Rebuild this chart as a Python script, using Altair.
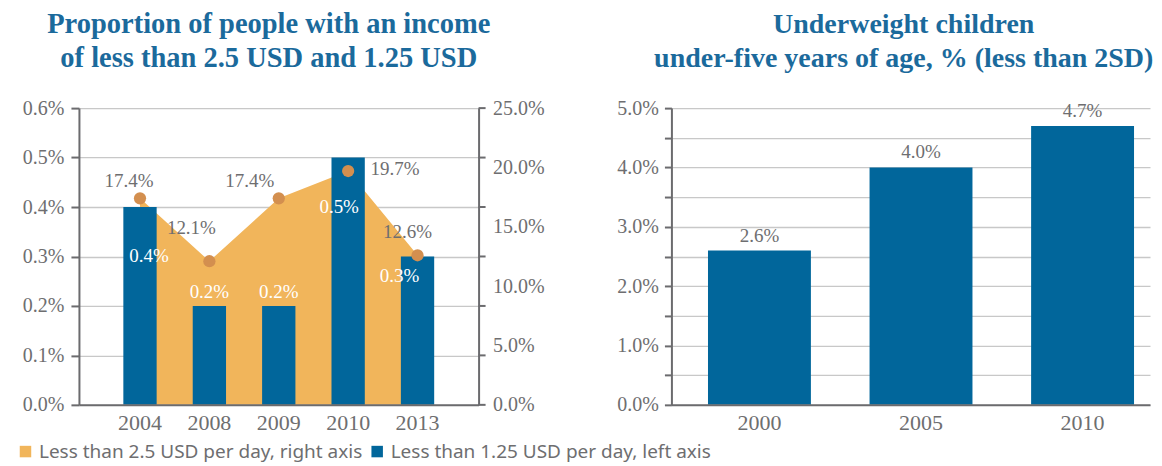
import altair as alt
import pandas as pd

# ---------------- data ----------------
years_left = ["2004", "2008", "2009", "2010", "2013"]
under_125_usd = [0.004, 0.002, 0.002, 0.005, 0.003]      # left axis
under_25_usd = [17.4, 12.1, 17.4, 19.7, 12.6]            # right axis, %
left_axis_ticks = [0.0, 0.001, 0.002, 0.003, 0.004, 0.005, 0.006]
right_axis_ticks = [0, 5, 10, 15, 20, 25]

years_right = ["2000", "2005", "2010"]
underweight = [0.026, 0.040, 0.047]
underweight_ticks = [0.0, 0.005, 0.01, 0.015, 0.02, 0.025, 0.03,
                     0.035, 0.04, 0.045, 0.05]

series_names = ["Less than 2.5 USD per day, right axis",
                "Less than 1.25 USD per day, left axis"]

title_left = ["Proportion of people with an income",
              "of less than 2.5 USD and 1.25 USD"]
title_right = ["Underweight children",
               "under-five years of age, % (less than 2SD)"]

# ---------------- style ----------------
BLUE = "#01669b"
ORANGE = "#f1b55b"
DOT = "#d38f4f"
GRAY = "#6e6e70"
AXIS = "#6b6b6e"
GRID = "#c8c8c8"
TITLE = "#1b6a9c"
SERIF = "Liberation Serif"
SANS = "Noto Sans"

W1, W2, H = 400, 479, 297

# label nudges (dx, dy) in pixels, per category
bar_label_nudge = {"2004": (9, 49), "2008": (0, -14), "2009": (0, -14),
                   "2010": (-9, 49), "2013": (-18, 20)}
dot_label_nudge = {"2004": (-11, -17), "2008": (-18, -33), "2009": (-29, -17),
                   "2010": (47, -2), "2013": (-10, -23)}

df_left = pd.DataFrame({
    "year": years_left,
    "low": under_125_usd,
    "high": under_25_usd,
    "s_low": series_names[1],
    "s_high": series_names[0],
})
df_ticks = pd.DataFrame({"low": left_axis_ticks})
df_right = pd.DataFrame({"year": years_right, "value": underweight})

legend = alt.Legend(
    title=None, orient="none", legendX=-63, legendY=334,
    direction="horizontal", symbolType="square", symbolSize=132,
    symbolStrokeWidth=0, symbolOpacity=1, labelFont=SANS, labelFontSize=19,
    labelColor=GRAY, columnPadding=5, labelOffset=4, labelLimit=600,
)
color_scale = alt.Scale(domain=series_names, range=[ORANGE, BLUE])

x_left = alt.X(
    "year:N", sort=years_left, title=None,
    scale=alt.Scale(paddingInner=0.52, paddingOuter=0.64),
    axis=alt.Axis(labelAngle=0, ticks=False, domainColor=AXIS, domainWidth=2,
                  labelFont=SERIF, labelFontSize=22, labelColor=GRAY,
                  labelPadding=8, zindex=1),
)

y_left_axis = alt.Axis(
    values=left_axis_ticks, format=".1%", orient="left", title=None,
    grid=True, gridColor=GRID, gridWidth=1.3, domainColor=AXIS, domainWidth=2,
    tickColor=AXIS, tickSize=8, tickWidth=2, labelFont=SERIF, labelFontSize=20,
    labelColor=GRAY, labelPadding=7,
)
y_left = alt.Y("low:Q", scale=alt.Scale(domain=[0, 0.006], nice=False),
               axis=y_left_axis)

y_right_axis = alt.Axis(
    values=right_axis_ticks, orient="right", title=None,
    labelExpr="format(datum.value, '.1f') + '%'", ticks=False, grid=False,
    domainColor=AXIS, domainWidth=2, labelFont=SERIF, labelFontSize=20,
    labelColor=GRAY, labelPadding=14,
)
y_high = alt.Y("high:Q", scale=alt.Scale(domain=[0, 25], nice=False),
               axis=y_right_axis)
y_high_noaxis = alt.Y("high:Q", scale=alt.Scale(domain=[0, 25], nice=False),
                      axis=None)

# area (right axis)
area = alt.Chart(df_left).mark_area(opacity=1).encode(
    x=x_left, y=y_high,
    color=alt.Color("s_high:N", scale=color_scale, legend=legend),
)

# bars (left axis)
bars = alt.Chart(df_left).mark_bar(opacity=1).encode(
    x=x_left, y=y_left,
    color=alt.Color("s_low:N", scale=color_scale, legend=legend),
)
tick_rules = alt.Chart(df_ticks).mark_rule(color=AXIS, strokeWidth=2).encode(
    y=y_left, x=alt.value(W1), x2=alt.value(W1 + 7)
)
bar_labels = []
for yr in years_left:
    dx, dy = bar_label_nudge[yr]
    bar_labels.append(
        alt.Chart(df_left).transform_filter(alt.datum.year == yr).mark_text(
            dx=dx, dy=dy, baseline="middle", align="center", color="white",
            font=SERIF, fontSize=19,
        ).encode(x=x_left, y=y_left, text=alt.Text("low:Q", format=".1%"))
    )

dots = alt.Chart(df_left).mark_circle(size=150, color=DOT, opacity=1).encode(
    x=x_left, y=y_high_noaxis
)
dot_labels = []
for yr in years_left:
    dx, dy = dot_label_nudge[yr]
    dot_labels.append(
        alt.Chart(df_left).transform_filter(alt.datum.year == yr)
        .transform_calculate(lab="format(datum.high, '.1f') + '%'")
        .mark_text(dx=dx, dy=dy, baseline="middle", align="center",
                   color=GRAY, font=SERIF, fontSize=19)
        .encode(x=x_left, y=y_high_noaxis, text="lab:N")
    )

left = alt.layer(
    area,
    alt.layer(bars, tick_rules, *bar_labels),
    alt.layer(dots, *dot_labels),
).resolve_scale(y="independent").properties(
    width=W1, height=H,
    title=alt.TitleParams(text=title_left, font=SERIF, fontSize=28.5,
                          fontWeight="bold", color=TITLE, lineHeight=34,
                          anchor="middle", frame="group", dx=-10, offset=25.5),
)

# ---------------- right chart ----------------
x_right = alt.X(
    "year:N", sort=years_right, title=None,
    scale=alt.Scale(paddingInner=0.363, paddingOuter=0.1626, align=0.696),
    axis=alt.Axis(labelAngle=0, ticks=False, domainColor=AXIS, domainWidth=2,
                  labelFont=SERIF, labelFontSize=22, labelColor=GRAY,
                  labelPadding=8, zindex=1),
)
y_right = alt.Y(
    "value:Q", scale=alt.Scale(domain=[0, 0.05], nice=False),
    axis=alt.Axis(
        values=underweight_ticks, title=None,
        labelExpr="round(datum.value * 200) % 2 == 0 ? format(datum.value, '.1%') : ''",
        grid=True, gridColor=GRID, gridWidth=1.3, domainColor=AXIS,
        domainWidth=2, tickColor=AXIS, tickSize=7, tickWidth=2,
        labelFont=SERIF, labelFontSize=20, labelColor=GRAY, labelPadding=6,
    ),
)
bars_r = alt.Chart(df_right).mark_bar(color=BLUE).encode(x=x_right, y=y_right)
labels_r = alt.Chart(df_right).mark_text(
    dy=-15, baseline="middle", color=GRAY, font=SERIF, fontSize=19
).encode(x=x_right, y=y_right, text=alt.Text("value:Q", format=".1%"))

right = alt.layer(bars_r, labels_r).properties(
    width=W2, height=H,
    title=alt.TitleParams(text=title_right, font=SERIF, fontSize=28,
                          fontWeight="bold", color=TITLE, lineHeight=34,
                          anchor="middle", frame="group", dx=-7, offset=25.5),
)

chart = alt.hconcat(left, right, spacing=193, bounds="flush").properties(
    padding={"left": 8, "top": 2, "right": 0, "bottom": 0}
).configure_view(stroke=None)

chart.save("out.html", embed_options={"renderer": "svg", "actions": False})
